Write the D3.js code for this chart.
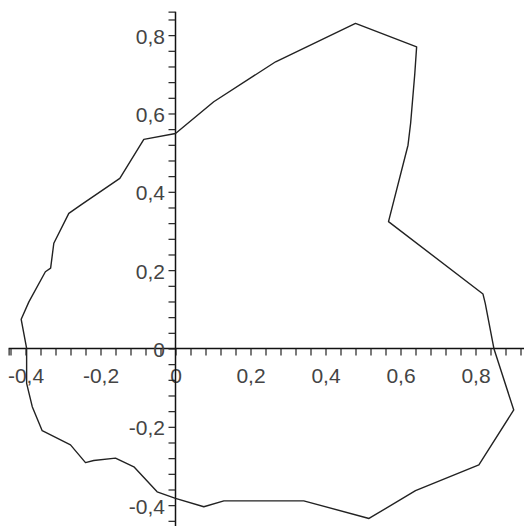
<!DOCTYPE html>
<html>
<head>
<meta charset="utf-8">
<script src="https://cdn.jsdelivr.net/npm/d3@7"></script>
<style>
  html, body { margin: 0; padding: 0; background: #fff; }
  svg { display: block; }
  .tick text { font-family: "Liberation Sans", Arial, sans-serif; font-size: 21px; fill: #444; }
</style>
</head>
<body>
<svg id="chart" width="524" height="526"></svg>
<script>
// Closed outline, listed vertex by vertex
const curveX = [0, 0.102, 0.267, 0.480, 0.643, 0.638, 0.627, 0.620, 0.568, 0.820, 0.826, 0.849, 0.902,
  0.809, 0.640, 0.516, 0.342, 0.129, 0.0755, 0, -0.049, -0.111, -0.160, -0.218, -0.240, -0.280,
  -0.3555, -0.382, -0.397, -0.397, -0.4115, -0.391, -0.347, -0.333, -0.3245, -0.2845, -0.253,
  -0.1485, -0.0845];
const curveY = [0.549, 0.630, 0.732, 0.830, 0.770, 0.700, 0.575, 0.519, 0.324, 0.139, 0.115, 0, -0.157,
  -0.297, -0.363, -0.434, -0.389, -0.389, -0.404, -0.3825, -0.366, -0.302, -0.280, -0.286, -0.2915, -0.246,
  -0.210, -0.1485, -0.089, 0, 0.0745, 0.119, 0.196, 0.205, 0.2686, 0.345, 0.366,
  0.4345, 0.534];

// Axis ticks: labelled majors and the minor marks between them
const xMajorTicks = [-0.4, -0.2, 0, 0.2, 0.4, 0.6, 0.8];
const xTickLabels = ["-0,4", "-0,2", "0", "0,2", "0,4", "0,6", "0,8"];
const yMajorTicks = [-0.4, -0.2, 0, 0.2, 0.4, 0.6, 0.8];
const yTickLabels = ["-0,4", "-0,2", "0", "0,2", "0,4", "0,6", "0,8"];
const xMinorTicks = d3.range(-11, 24).map(i => +(i * 0.04).toFixed(2)).concat([-0.445]);
const yMinorTicks = d3.range(-11, 22).map(i => +(i * 0.04).toFixed(2)).concat([0.86]);

const svg = d3.select("#chart");

const x = d3.scaleLinear().domain([-0.445, 0.93]).range([8.625, 524.25]);
const y = d3.scaleLinear().domain([-0.455, 0.86]).range([526.7, 11.64]);

const lookup = (ticks, labels) => v => {
  const i = ticks.findIndex(t => Math.abs(t - v) < 1e-9);
  return i >= 0 ? labels[i] : "";
};

// Horizontal axis through y = 0
const xAxis = d3.axisBottom(x)
  .tickValues(xMinorTicks)
  .tickSize(7)
  .tickSizeOuter(0)
  .tickPadding(12.5)
  .tickFormat(lookup(xMajorTicks, xTickLabels));

svg.append("g")
  .attr("transform", `translate(0,${y(0)})`)
  .call(xAxis)
  .call(g => g.select(".domain").attr("stroke", "#111").attr("stroke-width", 1.5).attr("d", `M${x(-0.445)},0H524`))
  .call(g => g.selectAll(".tick line").attr("stroke", "#222").attr("stroke-width", 1.2));

// Vertical axis through x = 0
const yAxis = d3.axisLeft(y)
  .tickValues(yMinorTicks)
  .tickSize(7)
  .tickSizeOuter(0)
  .tickPadding(3.5)
  .tickFormat(lookup(yMajorTicks, yTickLabels));

svg.append("g")
  .attr("transform", `translate(${x(0)},0)`)
  .call(yAxis)
  .call(g => g.select(".domain").attr("stroke", "#111").attr("stroke-width", 1.5).attr("d", `M0,${y(0.86)}V526`))
  .call(g => g.selectAll(".tick line").attr("stroke", "#222").attr("stroke-width", 1.2))
  .call(g => g.selectAll(".tick text").attr("dy", "0.38em"));

// The closed outline
const pts = curveX.map((v, i) => [v, curveY[i]]);
svg.append("path")
  .datum(pts)
  .attr("fill", "none")
  .attr("stroke", "#222")
  .attr("stroke-width", 1.4)
  .attr("stroke-linejoin", "round")
  .attr("d", d3.line().x(d => x(d[0])).y(d => y(d[1])).curve(d3.curveLinearClosed));
</script>
</body>
</html>
